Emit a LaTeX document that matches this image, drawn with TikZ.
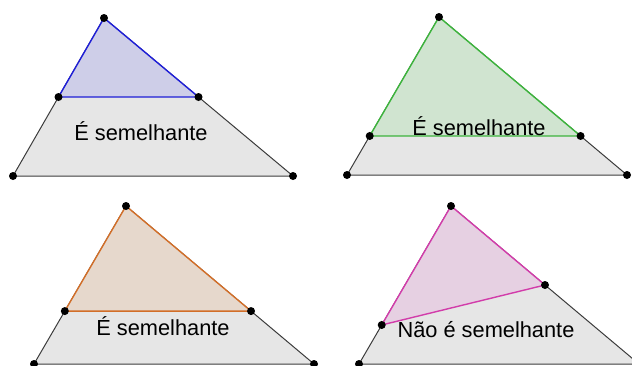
\documentclass[tikz,border=0pt]{standalone}
\usepackage{fontspec}
\setmainfont{Liberation Sans}
\usepackage{tikz}
\usetikzlibrary{calc}
\definecolor{base}{RGB}{230,230,230}
\definecolor{edge}{RGB}{60,60,60}
\definecolor{bl}{RGB}{30,30,215}
\definecolor{blfill}{RGB}{206,206,232}
\definecolor{gr}{RGB}{60,180,60}
\definecolor{grfill}{RGB}{208,228,208}
\definecolor{or}{RGB}{210,110,40}
\definecolor{orfill}{RGB}{230,216,204}
\definecolor{pk}{RGB}{210,60,170}
\definecolor{pkfill}{RGB}{230,208,226}

\begin{document}
\begin{tikzpicture}[x=1pt,y=-1pt,font=\fontsize{21.8}{25}\selectfont,
    big/.style={draw=edge,fill=base,line width=1pt,line join=round},
    part/.style={line width=1.4pt,line join=round},
    pt/.style={circle,fill=black,inner sep=0pt,minimum size=8pt},
    lbl/.style={anchor=base,inner sep=0pt}]
  \useasboundingbox (0,0) rectangle (632,365);
  % top left: blue
  \coordinate (a1) at (104,18);
  \coordinate (b1) at (13,176);
  \coordinate (c1) at (293,176);
  \coordinate (p1) at ($(a1)!0.5!(b1)$);
  \coordinate (q1) at ($(a1)!0.5!(c1)$);
  \draw[big] (a1) -- (b1) -- (c1) -- cycle;
  \draw[part,draw=bl,fill=blfill] (a1) -- (p1) -- (q1) -- cycle;
  \foreach \v in {a1,b1,c1,p1,q1} \node[pt] at (\v) {};
  \node[lbl] (t1) at (141,140) {É semelhante};
  % top right: green
  \coordinate (a2) at (439,17);
  \coordinate (b2) at (347,175);
  \coordinate (c2) at (627,175);
  \coordinate (p2) at ($(a2)!0.753!(b2)$);
  \coordinate (q2) at ($(a2)!0.753!(c2)$);
  \draw[big] (a2) -- (b2) -- (c2) -- cycle;
  \draw[part,draw=gr,fill=grfill] (a2) -- (p2) -- (q2) -- cycle;
  \foreach \v in {a2,b2,c2,p2,q2} \node[pt] at (\v) {};
  \node[lbl] (t2) at (479,135) {É semelhante};
  % bottom left: orange
  \coordinate (a3) at (126,206);
  \coordinate (b3) at (34,364);
  \coordinate (c3) at (314,364);
  \coordinate (p3) at ($(a3)!0.665!(b3)$);
  \coordinate (q3) at ($(a3)!0.665!(c3)$);
  \draw[big] (a3) -- (b3) -- (c3) -- cycle;
  \draw[part,draw=or,fill=orfill] (a3) -- (p3) -- (q3) -- cycle;
  \foreach \v in {a3,b3,c3,p3,q3} \node[pt] at (\v) {};
  \node[lbl] (t3) at (163,335) {É semelhante};
  % bottom right: pink
  \coordinate (a4) at (451,206);
  \coordinate (b4) at (359,364);
  \coordinate (c4) at (639,364);
  \coordinate (p4) at ($(a4)!0.753!(b4)$);
  \coordinate (q4) at ($(a4)!0.5!(c4)$);
  \draw[big] (a4) -- (b4) -- (c4) -- cycle;
  \draw[part,draw=pk,fill=pkfill] (a4) -- (p4) -- (q4) -- cycle;
  \foreach \v in {a4,b4,c4,p4,q4} \node[pt] at (\v) {};
  \node[lbl] (t4) at (486,337) {Não é semelhante};
\end{tikzpicture}
\end{document}
